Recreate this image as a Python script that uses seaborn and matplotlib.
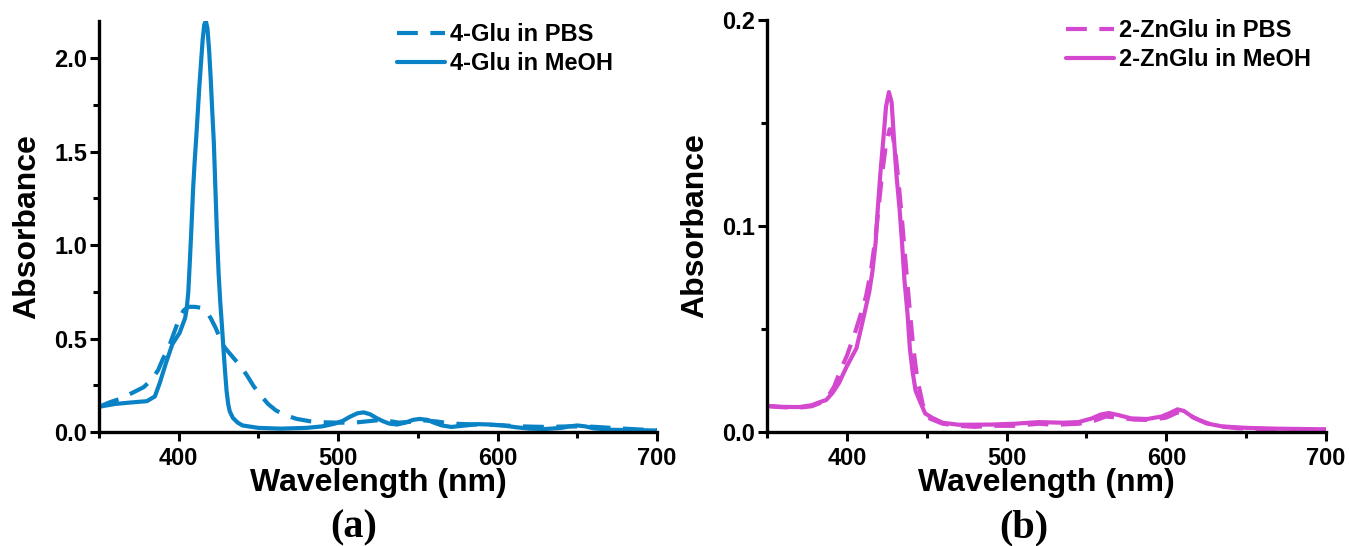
import numpy as np
import pandas as pd
import matplotlib
matplotlib.use("Agg")
import matplotlib.pyplot as plt
from matplotlib.ticker import MultipleLocator
import seaborn as sns

# ---------------- data ----------------
# Panel (a): 4-Glu
wl_a_meoh = [350, 360, 370, 380, 385, 388, 392, 396, 400.5, 404, 405, 406, 407, 408, 409, 410, 411,
             412, 413, 414, 415, 416, 417, 418, 419, 420, 421, 422, 423, 424, 425, 426, 427,
             428, 429, 430, 431, 432, 434, 437, 440, 450, 464, 480, 490, 498, 503, 507, 512,
             516, 520, 524, 528, 532, 537, 542, 547, 551, 556, 560, 565, 571, 580, 588, 595,
             603, 612, 620, 630, 640, 645, 650, 655, 660, 670, 685, 700]
abs_a_meoh = [0.135, 0.15, 0.158, 0.165, 0.19, 0.26, 0.37, 0.47, 0.53, 0.61, 0.66, 0.75, 0.92, 1.1, 1.3, 1.45, 1.58,
              1.72, 1.86, 1.98, 2.1, 2.18, 2.2, 2.16, 2.05, 1.9, 1.72, 1.55, 1.3, 1.05, 0.85, 0.7, 0.58,
              0.45, 0.33, 0.22, 0.15, 0.11, 0.075, 0.05, 0.035, 0.022, 0.018, 0.022, 0.03, 0.045, 0.06, 0.08, 0.1,
              0.105, 0.095, 0.075, 0.058, 0.045, 0.04, 0.05, 0.065, 0.07, 0.065, 0.05, 0.035, 0.027, 0.035, 0.042, 0.04,
              0.035, 0.025, 0.018, 0.016, 0.022, 0.03, 0.035, 0.03, 0.02, 0.012, 0.01, 0.008]

wl_a_pbs = [350, 357, 364, 371, 378, 383, 387, 390, 394, 397, 400, 403, 406, 410, 414, 417, 420,
            423, 426, 429, 434, 439, 443, 447, 451, 456, 461, 467, 474, 482, 490, 500, 510, 518,
            525, 531, 538, 546, 554, 562, 571, 580, 590, 600, 615, 630, 645, 660, 675, 690, 700]
abs_a_pbs = [0.135, 0.16, 0.18, 0.21, 0.24, 0.28, 0.33, 0.39, 0.46, 0.53, 0.6, 0.65, 0.67, 0.67, 0.665, 0.65, 0.61,
             0.56, 0.5, 0.45, 0.4, 0.35, 0.3, 0.245, 0.2, 0.15, 0.115, 0.09, 0.07, 0.058, 0.052, 0.05, 0.05, 0.057,
             0.063, 0.06, 0.05, 0.055, 0.062, 0.056, 0.045, 0.042, 0.04, 0.037, 0.03, 0.027, 0.03, 0.028, 0.02, 0.013, 0.01]

# Panel (b): 2-ZnGlu
wl_b_meoh = [350, 360, 370, 378, 383, 387, 391, 395, 400, 406, 411, 414, 416, 418, 419.3, 421,
             422.8, 424.5, 426.3, 428, 429.5, 431, 433, 434.5, 436, 438, 439.4, 441, 443, 445.5,
             449, 453.6, 460, 470, 490, 505, 520, 535, 545, 553, 559, 564, 570, 578, 588, 597,
             603, 607, 611, 617, 625, 635, 650, 670, 700]
abs_b_meoh = [0.0127, 0.0122, 0.0121, 0.013, 0.0145, 0.0155, 0.019, 0.0237, 0.032, 0.0407, 0.0576, 0.068, 0.078, 0.092, 0.108, 0.126,
              0.142, 0.158, 0.165, 0.16, 0.142, 0.125, 0.108, 0.092, 0.074, 0.057, 0.0407, 0.03, 0.02, 0.0153,
              0.009, 0.0068, 0.0045, 0.0035, 0.0036, 0.004, 0.0048, 0.0045, 0.0048, 0.0065, 0.0085, 0.0092, 0.0082, 0.0066, 0.0063, 0.0075,
              0.0095, 0.011, 0.0102, 0.007, 0.0042, 0.0027, 0.002, 0.0016, 0.0013]

wl_b_pbs = [350, 360, 370, 378, 383, 388, 392, 396, 400, 405, 409, 412, 415, 418, 420, 422, 424.5,
            426.8, 428.5, 430.5, 432.5, 434.5, 437, 439.5, 441.6, 444, 447.6, 452, 460, 470, 480,
            490, 505, 520, 530, 545, 555, 562, 570, 580, 590, 600, 607, 612, 620, 630, 645, 660,
            680, 700]
abs_b_pbs = [0.0125, 0.012, 0.0118, 0.0125, 0.014, 0.017, 0.022, 0.03, 0.037, 0.048, 0.058, 0.066, 0.078, 0.095, 0.11, 0.125, 0.14,
             0.147, 0.145, 0.135, 0.12, 0.103, 0.08, 0.058, 0.0407, 0.026, 0.013, 0.0065, 0.004, 0.003, 0.0025,
             0.003, 0.003, 0.004, 0.0035, 0.004, 0.0055, 0.0075, 0.007, 0.006, 0.0058, 0.007, 0.0095, 0.009, 0.006, 0.003, 0.0018, 0.0015,
             0.001, 0.001]

labels_a = ["4-Glu in PBS", "4-Glu in MeOH"]
labels_b = ["2-ZnGlu in PBS", "2-ZnGlu in MeOH"]
xticks = [400, 500, 600, 700]
panel_tags = ["(a)", "(b)"]

# ---------------- style ----------------
sns.set_style("ticks")
plt.rcParams["font.family"] = ["Liberation Sans", "DejaVu Sans"]
plt.rcParams["font.weight"] = "bold"
for k in ["text.color", "axes.labelcolor", "xtick.color", "ytick.color", "axes.edgecolor"]:
    plt.rcParams[k] = "black"

BLUE = "#0a82c6"
MAGENTA = "#d447cf"

fig = plt.figure(figsize=(13.49, 5.46), dpi=100)
ax1 = fig.add_axes([0.0734, 0.2088, 0.4137, 0.7527])
ax2 = fig.add_axes([0.5686, 0.2088, 0.4144, 0.7546])

dash = (0, (5.0, 3.0))


def draw(ax, wl_p, ab_p, wl_m, ab_m, color, labels):
    df_p = pd.DataFrame({"wl": wl_p, "abs": ab_p})
    df_m = pd.DataFrame({"wl": wl_m, "abs": ab_m})
    sns.lineplot(data=df_p, x="wl", y="abs", ax=ax, color=color, lw=3.0,
                 linestyle=dash, label=labels[0], sort=True)
    sns.lineplot(data=df_m, x="wl", y="abs", ax=ax, color=color, lw=3.0,
                 linestyle="-", label=labels[1], sort=True)


draw(ax1, wl_a_pbs, abs_a_pbs, wl_a_meoh, abs_a_meoh, BLUE, labels_a)
draw(ax2, wl_b_pbs, abs_b_pbs, wl_b_meoh, abs_b_meoh, MAGENTA, labels_b)

for ax, ymax, ymaj, ymin in [(ax1, 2.2, 0.5, 0.25), (ax2, 0.2, 0.1, 0.05)]:
    ax.set_xlim(350, 700)
    ax.set_ylim(0, ymax)
    ax.set_xticks(xticks)
    ax.set_xticklabels([str(t) for t in xticks])
    ax.xaxis.set_minor_locator(MultipleLocator(50))
    ax.yaxis.set_major_locator(MultipleLocator(ymaj))
    ax.yaxis.set_minor_locator(MultipleLocator(ymin))
    ax.yaxis.set_major_formatter(matplotlib.ticker.FuncFormatter(lambda v, p: "{:.1f}".format(v)))
    for s in ["top", "right"]:
        ax.spines[s].set_visible(False)
    for s in ["left", "bottom"]:
        ax.spines[s].set_linewidth(2.4)
        ax.spines[s].set_color("black")
    ax.tick_params(axis="both", which="major", direction="out", length=6.5, width=2.2,
                   labelsize=17, color="black", labelcolor="black")
    ax.tick_params(axis="both", which="minor", direction="out", length=4.0, width=2.2, color="black")
    ax.tick_params(axis="x", which="major", pad=4)
    ax.tick_params(axis="y", which="major", pad=2)
    for lab in ax.get_xticklabels() + ax.get_yticklabels():
        lab.set_fontweight("bold")
    ax.set_xlabel("Wavelength (nm)", fontsize=23, fontweight="bold", labelpad=-1, color="black")
    ax.set_ylabel("Absorbance", fontsize=23, fontweight="bold", labelpad=9, color="black")
    ax.set_facecolor("white")

leg_kw = dict(loc="upper left", frameon=False, handlelength=2.05,
              handletextpad=0.2, labelspacing=0.27, borderpad=0, borderaxespad=0,
              bbox_transform=fig.transFigure, prop={"weight": "bold", "size": 17},
              labelcolor="black")
ax1.legend(bbox_to_anchor=(397 / 1349, 1 - 23 / 546), **leg_kw)
ax2.legend(bbox_to_anchor=(1066 / 1349, 1 - 19 / 546), **leg_kw)

fig.text(354 / 1349, 1 - 528 / 546, panel_tags[0], family=["Liberation Serif", "DejaVu Serif"],
         fontsize=29, fontweight="bold", ha="center", va="center", color="black")
fig.text(1024 / 1349, 1 - 528 / 546, panel_tags[1], family=["Liberation Serif", "DejaVu Serif"],
         fontsize=29, fontweight="bold", ha="center", va="center", color="black")

fig.savefig("out.png", dpi=100, facecolor="white")
